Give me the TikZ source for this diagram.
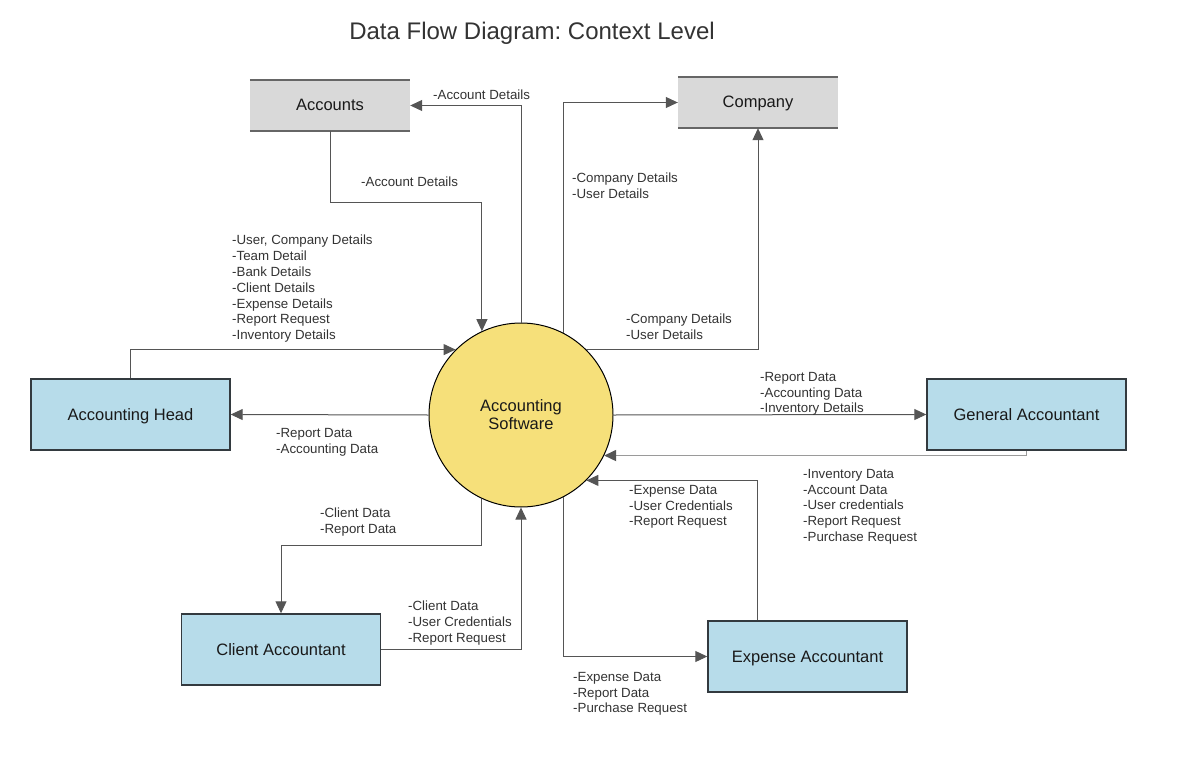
\documentclass[tikz,border=0pt]{standalone}
\usepackage{fontspec}
\setmainfont{Liberation Sans}
\usetikzlibrary{arrows.meta}
\frenchspacing
\definecolor{lineg}{HTML}{555555}
\definecolor{lightg}{HTML}{9A9A9A}
\definecolor{boxblue}{HTML}{B7DCEA}
\definecolor{boxedge}{HTML}{333A3F}
\definecolor{storeg}{HTML}{D9D9D9}
\definecolor{storeedge}{HTML}{666666}
\definecolor{sunyellow}{HTML}{F6E07A}
\definecolor{textg}{HTML}{333333}
\tikzset{
  ent/.style={draw=boxedge, line width=1.4pt, fill=boxblue, minimum width=199pt, minimum height=71pt, inner sep=0pt, text height=13pt, text depth=2pt, font=\fontsize{16.5}{19}\selectfont, text=black!90},
  store/.style={fill=storeg, minimum width=160pt, minimum height=51pt, inner sep=0pt, text height=13pt, text depth=2pt, font=\fontsize{16.5}{19}\selectfont, text=black!90},
  proc/.style={circle, draw=black, line width=1pt, fill=sunyellow, minimum size=184pt, inner sep=0pt, align=center, font=\fontsize{16.5}{18}\selectfont, text=black!90},
  flow/.style={draw=lineg, line width=1pt, -{Triangle[length=12pt,width=11pt]}},
  flowlight/.style={draw=lightg, line width=1.6pt, -{Triangle[length=12pt,width=11pt,color=lineg]}},
  lbl/.style={anchor=north west, inner sep=0pt, align=left, text=textg, font=\fontsize{13.3}{15.8}\selectfont},
  storeline/.style={draw=storeedge, line width=1.6pt}
}
\begin{document}
\begin{tikzpicture}[x=1pt,y=-1pt]
\useasboundingbox (0,0) rectangle (1204,757);

\node[text=textg, font=\fontsize{24}{28}\selectfont] (title) at (532,33) {Data Flow Diagram: Context Level};

% nodes
\node[proc] (sw) at (521,415) {Accounting\\Software};
\node[store] (acc) at (330,105.5) {Accounts};
\draw[storeline] (acc.north west) -- (acc.north east);
\draw[storeline] (acc.south west) -- (acc.south east);
\node[store] (comp) at (758,102.5) {Company};
\draw[storeline] (comp.north west) -- (comp.north east);
\draw[storeline] (comp.south west) -- (comp.south east);
\node[ent] (ah) at (130.5,414.5) {Accounting Head};
\node[ent] (ga) at (1026.5,414.5) {General Accountant};
\node[ent] (ca) at (281,649.5) {Client Accountant};
\node[ent] (ea) at (807.5,656.5) {Expense Accountant};

% connectors
\coordinate (eatop) at ([xshift=-50pt]ea.north);
\coordinate (cabend) at (281,545);
\draw[flow] (sw.north) |- (acc.east);
\draw[flow] (acc.south) -- ++(0,71) -| (sw.115.8);
\draw[flow] (sw.63.5) |- (comp.west);
\draw[flow] (sw.45) -| (comp.south);
\draw[flow] (ah.north) |- (sw.135);
\draw[flow] (sw.west) -- (ah.east);
\draw[flow] (sw.east) -- (ga.west);
\draw[flowlight] (ga.south) |- (sw.-26.5);
\draw[flow] (eatop) |- (sw.-45);
\draw[flow] (sw.-63.5) |- (ea.west);
\draw[flow] (sw.-115.8) |- (cabend) -- (ca.north);
\draw[flow] (ca.east) -| (sw.south);

% labels
\node[lbl] (l1) at (433,90) {-Account Details};
\node[lbl] (l2) at (361,177) {-Account Details};
\node[lbl] (l3) at (572,173) {-Company Details\\-User Details};
\node[lbl] (l4) at (626,314) {-Company Details\\-User Details};
\node[lbl] (l5) at (232,235) {-User, Company Details\\-Team Detail\\-Bank Details\\-Client Details\\-Expense Details\\-Report Request\\-Inventory Details};
\node[lbl] (l6) at (276,428) {-Report Data\\-Accounting Data};
\node[lbl] (l7) at (760,372) {-Report Data\\-Accounting Data\\-Inventory Details};
\node[lbl] (l8) at (803,469) {-Inventory Data\\-Account Data\\-User credentials\\-Report Request\\-Purchase Request};
\node[lbl] (l9) at (629,485) {-Expense Data\\-User Credentials\\-Report Request};
\node[lbl] (l10) at (573,672) {-Expense Data\\-Report Data\\-Purchase Request};
\node[lbl] (l11) at (320,508) {-Client Data\\-Report Data};
\node[lbl] (l12) at (408,601) {-Client Data\\-User Credentials\\-Report Request};
\end{tikzpicture}
\end{document}
